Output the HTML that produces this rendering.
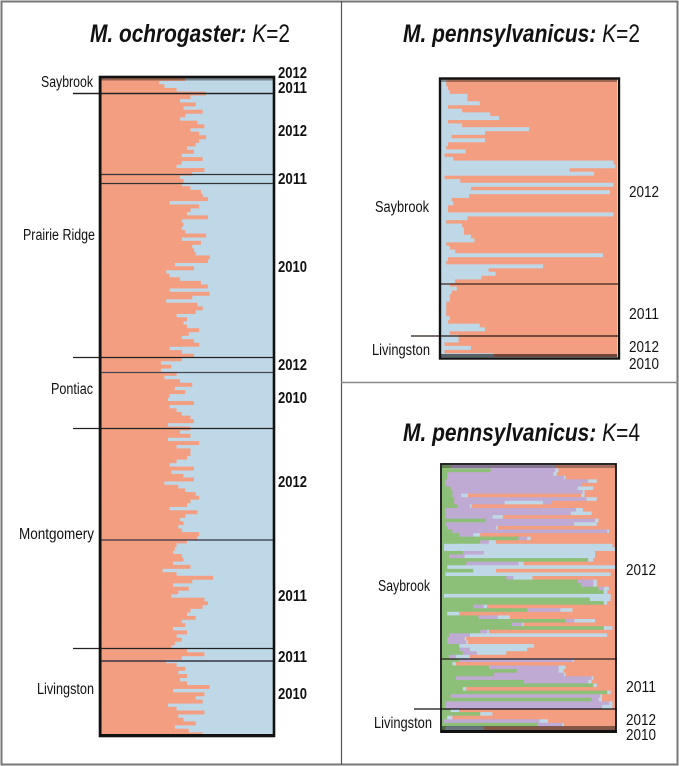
<!DOCTYPE html>
<html>
<head>
<meta charset="utf-8">
<title>Structure plots</title>
<style>
html,body{margin:0;padding:0;background:#fff;width:679px;height:766px;overflow:hidden}
svg{display:block}
text{font-family:"Liberation Sans",sans-serif;fill:#111}
.site{font-size:15.5px}
.yr{font-size:16px;font-weight:bold}
.yr2{font-size:15.5px}
.ttl{font-size:25px;font-weight:bold}
.ttl tspan.i{font-style:italic}
.ttl tspan.n{font-weight:normal}
#plotA,#plotB,#plotC{filter:blur(0.35px)}
</style>
</head>
<body>
<svg id="fig" xmlns="http://www.w3.org/2000/svg" width="679" height="766" viewBox="0 0 679 766">
  <rect x="1.5" y="1.5" width="676" height="763" fill="#fff" stroke="#777" stroke-width="2"/>
  <line x1="341.5" y1="1" x2="341.5" y2="765" stroke="#555" stroke-width="1.2"/>
  <line x1="341" y1="382.5" x2="678" y2="382.5" stroke="#888" stroke-width="1.6"/>

  <text class="ttl" x="90" y="42" textLength="200"><tspan class="i">M. ochrogaster:</tspan><tspan class="n"> </tspan><tspan class="n i">K</tspan><tspan class="n">=2</tspan></text>
  <text class="ttl" x="403" y="42" textLength="237"><tspan class="i">M. pennsylvanicus:</tspan><tspan class="n"> </tspan><tspan class="n i">K</tspan><tspan class="n">=2</tspan></text>
  <text class="ttl" x="403" y="441" textLength="237"><tspan class="i">M. pennsylvanicus:</tspan><tspan class="n"> </tspan><tspan class="n i">K</tspan><tspan class="n">=4</tspan></text>

  <g id="plotA"></g>
  <g id="plotB"></g>
  <g id="plotC"></g>

  <g>
    <text class="site" x="41" y="87" textLength="52">Saybrook</text>
    <text class="site" x="23" y="240" textLength="72">Prairie Ridge</text>
    <text class="site" x="51" y="394" textLength="42">Pontiac</text>
    <text class="site" x="19" y="539" textLength="75">Montgomery</text>
    <text class="site" x="37" y="694" textLength="57">Livingston</text>
  </g>
  <g>
    <text class="yr" x="278" y="78" textLength="29">2012</text>
    <text class="yr" x="278" y="93" textLength="29">2011</text>
    <text class="yr" x="278" y="136" textLength="29">2012</text>
    <text class="yr" x="278" y="184" textLength="29">2011</text>
    <text class="yr" x="278" y="272" textLength="29">2010</text>
    <text class="yr" x="278" y="370" textLength="29">2012</text>
    <text class="yr" x="278" y="403" textLength="29">2010</text>
    <text class="yr" x="278" y="487" textLength="29">2012</text>
    <text class="yr" x="278" y="601" textLength="29">2011</text>
    <text class="yr" x="278" y="662" textLength="29">2011</text>
    <text class="yr" x="278" y="699" textLength="29">2010</text>
  </g>
  <g>
    <text class="site" x="375" y="212" textLength="54">Saybrook</text>
    <text class="site" x="372" y="355" textLength="58">Livingston</text>
    <text class="yr2" x="629" y="197" textLength="30">2012</text>
    <text class="yr2" x="629" y="319" textLength="30">2011</text>
    <text class="yr2" x="629" y="352" textLength="30">2012</text>
    <text class="yr2" x="629" y="369" textLength="30">2010</text>
  </g>
  <g>
    <text class="site" x="378" y="591" textLength="52">Saybrook</text>
    <text class="site" x="374" y="728" textLength="58">Livingston</text>
    <text class="yr2" x="626" y="575" textLength="30">2012</text>
    <text class="yr2" x="626" y="692" textLength="30">2011</text>
    <text class="yr2" x="626" y="725" textLength="30">2012</text>
    <text class="yr2" x="626" y="740" textLength="30">2010</text>
  </g>
</svg>
<script>
var ochrogasterOrange = [
49,34,37,44,61,52,46,55,48,59,49,46,56,60,52,57,61,57,55,50,54,47,59,47,44,60,53,46,
48,47,52,58,59,62,40,57,52,50,62,47,48,47,49,61,47,58,53,54,55,63,62,43,54,38,40,46,58,62,40,63,53,
38,56,59,55,44,50,48,50,57,51,47,54,57,40,47,54,47,35,41,35,44,37,46,53,43,49,40,39,54,40,44,47,52,54,39,52,46,52,39,57,44,52,52,50,44,40,54,41,48,54,37,45,49,55,57,52,50,40,56,49,46,48,45,47,
57,56,50,44,43,42,47,48,42,52,36,44,65,53,42,51,45,41,60,62,59,52,50,55,47,49,42,50,44,47,43,41,50,60,47,38,44,49,45,50,46,50,63,42,60,55,59,39,44,60,45,48,55,43,51,59
];
var pennK2Blue = [
3,3,4,5,15,15,22,4,12,28,33,4,12,50,25,6,25,4,3,14,2,7,98,99,73,87,2,11,98,17,96,16,6,7,4,4,98,15,
3,12,13,13,17,19,3,5,8,92,4,3,58,27,31,23,8,5,9,6,5,5,3,3,3,3,5,4,22,25,5,10,10,2,17,2,30
];
var pennK4Rows = [
"g5 p60 o35","g28 p37 b2 o33","g3 p61 b2 o34","g3 p67 b1 o29","g2 p82 b5 o11","g2 p78 o20","g5 p73 b9 o13","g6 p75 b1 o18","g6 p5 b4 o65 b2 o18","g7 p76 b6 o11","g7 p29 b22 p5 o37","g9 p7 b1 o83","g2 p75 b4 o19","g2 p72 b12 o14","g2 p27 b6 o65","g25 p63 b2 o10","g2 p74 b13 o11","g3 p28 b1 o68","g6 p89 b1 o4","g10 p8 b4 o78","g44 p5 b2 o49","g22 p5 b4 o69","g1 b97 o2","g1 b99","g12 p12 b64 o12","g4 p9 b75 o12","g84 b3 o13","g14 p30 b3 o53","g3 b97","g18 b13 o69","g2 b95 o3","g37 p4 b11 o48","g78 p9 b2 o11","g80 p7 b2 o11","g90 p3 b3 o4","g93 b2 o5","b97 o3","g85 b12 o3",
"g93 b2 o5","g18 p6 b2 o74","g49 p19 b7 o25","g3 b7 o90","g21 p11 b7 o61","g71 p5 b12 o12","g40 p6 b1 o53","g93 b5 o2","g22 p4 b1 o73","g4 p12 b79 o5","g3 p10 b1 o86","g3 p11 b1 o85","g10 b43 o47","g10 p6 b33 o51","g12 p8 b17 o63","g4 p4 b8 o84","g10 p65 b1 o24",
"g6 b2 o92","g27 p40 b4 o29","g43 p24 b3 o30","g30 p40 b1 o29","g8 p78 b1 o13","g47 p37 b2 o14","g87 b2 o11","g12 b2 o86","g95 b2 o3","g5 p86 b1 o8","g86 p4 b2 o8","g2 p94 b2 o2","g2 p90 b6 o2",
"g5 b5 o90","g22 b7 o71","g3 b3 o94","g1 p55 b5 o39","g55 p14 b1 o30","g2 b22 o76"
];
var clusterNames = {g:"green",p:"purple",b:"blue",o:"orange"};
var clusterColors = {g:"#8cbf78",p:"#bfaad4",b:"#bfd8e7",o:"#f39e80"};
var NS = "http://www.w3.org/2000/svg";

document.querySelectorAll("text[textLength]").forEach(function (t) {
  t.setAttribute("lengthAdjust", "spacingAndGlyphs");
});

function makeScale(left, width) {
  return function (v) { return left + v / 100 * width; };
}
function makeRow(top, height, n) {
  return function (i) { return top + i * height / n; };
}
function addRect(parent, x, y, w, h, fill) {
  var r = document.createElementNS(NS, "rect");
  r.setAttribute("x", x);
  r.setAttribute("y", y);
  r.setAttribute("width", w);
  r.setAttribute("height", h);
  r.setAttribute("fill", fill);
  parent.appendChild(r);
  return r;
}
function addLine(parent, x1, x2, y, sw, color) {
  var l = document.createElementNS(NS, "line");
  l.setAttribute("x1", x1);
  l.setAttribute("x2", x2);
  l.setAttribute("y1", y);
  l.setAttribute("y2", y);
  l.setAttribute("stroke", color);
  l.setAttribute("stroke-width", sw);
  
  
  parent.appendChild(l);
}
function addFrame(parent, x, y, w, h, sw) {
  var f = addRect(parent, x, y, w, h, "none");
  f.setAttribute("stroke", "#111");
  f.setAttribute("stroke-width", sw);
  
  
}

/* Plot A: M. ochrogaster K=2 */
(function () {
  var g = document.getElementById("plotA");
  var X = makeScale(100, 174), Y = makeRow(77, 659, ochrogasterOrange.length);
  var h = 659 / ochrogasterOrange.length;
  addRect(g, 100, 77, 174, 659, clusterColors.b);
  ochrogasterOrange.forEach(function (v, i) {
    var bar = addRect(g, X(0), Y(i), X(v) - X(0), h + 0.3, clusterColors.o);
    
    
  });
  var dim = addRect(g, 100, 77, 174, 3.5, "#000");
  dim.setAttribute("opacity", "0.38");
  
  
  var left = addRect(g, 100, 77, 2, 659, "#000");
  left.setAttribute("opacity", "0.3");
  
  
  addLine(g, 73, 274, 93.5, 1.4, "#222");
  addLine(g, 100, 274, 174.5, 1.2, "#333");
  addLine(g, 100, 274, 183.5, 1.2, "#333");
  addLine(g, 73, 274, 357.5, 1.2, "#222");
  addLine(g, 100, 274, 372.5, 1.2, "#445");
  addLine(g, 73, 274, 428.5, 1.2, "#222");
  addLine(g, 100, 274, 540, 1.3, "#334");
  addLine(g, 73, 274, 648.5, 1.2, "#222");
  addLine(g, 100, 274, 661, 1.4, "#334");
  addFrame(g, 100, 77, 174, 659, 2.6);
  var base = addRect(g, 99, 734, 176, 3, "#111");
  
  
})();

/* Plot B: M. pennsylvanicus K=2 */
(function () {
  var g = document.getElementById("plotB");
  var X = makeScale(441, 176), Y = makeRow(79, 278, pennK2Blue.length);
  var h = 278 / pennK2Blue.length;
  addRect(g, 441, 79, 176, 278, clusterColors.o);
  pennK2Blue.forEach(function (v, i) {
    var bar = addRect(g, X(0), Y(i), X(v) - X(0), h + 0.3, clusterColors.b);
    
    
  });
  var dim = addRect(g, 441, 79, 176, 3, "#000");
  dim.setAttribute("opacity", "0.35");
  
  
  var dim2 = addRect(g, 441, 354, 176, 3, "#000");
  dim2.setAttribute("opacity", "0.55");
  
  
  addLine(g, 440, 618, 284, 1.3, "#3a2520");
  addLine(g, 411, 618, 336, 1.3, "#2a1a16");
  addFrame(g, 440, 78.5, 179, 280, 2.4);
})();

/* Plot C: M. pennsylvanicus K=4 */
(function () {
  var g = document.getElementById("plotC");
  var X = makeScale(442, 174), Y = makeRow(465, 265, pennK4Rows.length);
  var h = 265 / pennK4Rows.length;
  addRect(g, 442, 465, 174, 265, clusterColors.o);
  pennK4Rows.forEach(function (row, i) {
    var acc = 0;
    row.split(" ").forEach(function (seg) {
      var key = seg.charAt(0), val = parseFloat(seg.slice(1));
      var bar = addRect(g, X(acc), Y(i), X(acc + val) - X(acc), h + 0.3, clusterColors[key]);
      
      
      acc += val;
    });
  });
  var edge = addRect(g, 442, 465, 2, 265, clusterColors.g);
  
  
  var dim = addRect(g, 442, 465, 174, 3, "#000");
  dim.setAttribute("opacity", "0.3");
  
  
  var dim2 = addRect(g, 442, 726, 174, 4, "#000");
  dim2.setAttribute("opacity", "0.45");
  
  
  addLine(g, 441, 617, 659, 1.3, "#222");
  addLine(g, 414, 617, 709, 1.3, "#111");
  addFrame(g, 441, 464, 175, 268, 1.8);
  var base = addRect(g, 441, 730, 176, 3, "#111");
  
  
})();
</script>
</body>
</html>
